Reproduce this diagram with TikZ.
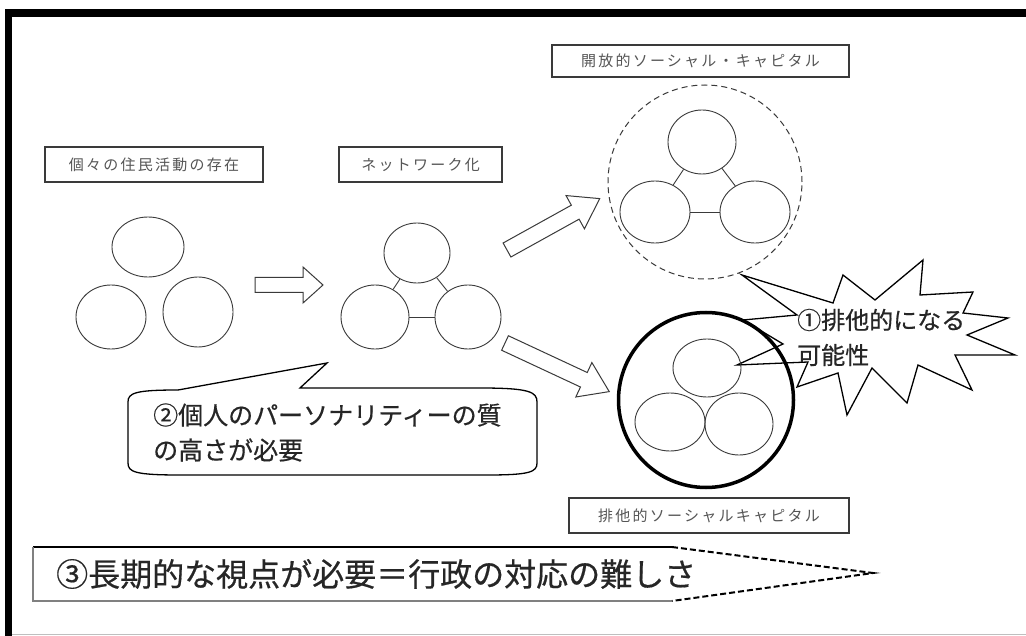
\documentclass[tikz,border=0pt]{standalone}
\usepackage{fontspec}
\usetikzlibrary{shapes.geometric}
\newfontfamily\jp{Noto Sans CJK JP}
\newfontfamily\jplab[LetterSpace=15]{Noto Sans CJK JP}
\newfontfamily\jpb[FakeBold=0.5]{Noto Sans CJK JP}
\definecolor{lab}{HTML}{555555}
\definecolor{ln}{HTML}{3A3A3A}
\tikzset{
  lbl/.style={draw=ln, line width=1.3pt, inner sep=0pt, text=lab, font=\jplab\fontsize{15}{18}\selectfont},
  ell/.style={ellipse, draw=ln, line width=0.9pt, inner sep=0pt},
  link/.style={draw=ln, line width=0.9pt},
  blk/.style={draw=ln, line width=1pt, fill=white, line join=miter},
  big/.style={font=\jpb\fontsize{25}{35}\selectfont, text=black!85, inner sep=0pt, anchor=west},
  starsty/.style={draw=black, line width=1.3pt, fill=white, line join=miter},
}
\begin{document}
\begin{tikzpicture}[x=1pt,y=-1pt]
\useasboundingbox (0,0) rectangle (1026,636);
\fill[white] (0,0) rectangle (1026,636);
% frame
\fill[black] (5,9) rectangle (1026,17);
\fill[black] (5,9) rectangle (12,636);
\draw[gray!50, line width=1.5pt] (12,634.5) -- (1026,634.5);

% labels
\node[lbl, minimum width=218, minimum height=35] (l1) at (154,164.5) {個々の住民活動の存在};
\node[lbl, minimum width=163, minimum height=35] (l2) at (420.5,164.5) {ネットワーク化};
\node[lbl, minimum width=297, minimum height=32] (l3) at (700.5,61) {開放的ソーシャル・キャピタル};
\node[lbl, minimum width=280, minimum height=35] (l4) at (709,515.5) {排他的ソーシャルキャピタル};

% stage 1 circles
\node[ell, minimum width=72, minimum height=60] (a1) at (148,247) {};
\node[ell, minimum width=70, minimum height=64] (a2) at (111,317) {};
\node[ell, minimum width=70, minimum height=70] (a3) at (198,312) {};

% network circles
\node[ell, minimum width=66, minimum height=60] (b1) at (417,253) {};
\node[ell, minimum width=68, minimum height=64] (b2) at (375,317) {};
\node[ell, minimum width=66, minimum height=64] (b3) at (468,317) {};
\draw[link] (b1) -- (b2);
\draw[link] (b1) -- (b3);
\draw[link] (b2) -- (b3);

% open social capital
\node[circle, draw=ln, dashed, dash pattern=on 6pt off 4pt, line width=1pt, minimum size=194, inner sep=0pt] (oc) at (705,182) {};
\node[ell, minimum width=68, minimum height=64] (c1) at (702,142) {};
\node[ell, minimum width=70, minimum height=62] (c2) at (655,212) {};
\node[ell, minimum width=70, minimum height=62] (c3) at (755,212) {};
\draw[link] (c1) -- (c2);
\draw[link] (c1) -- (c3);
\draw[link] (c2) -- (c3);

% block arrows
\draw[blk, shift={(255,285)}] (0,-7.5) -- (48,-7.5) -- (48,-18) -- (68,0) -- (48,18) -- (48,7.5) -- (0,7.5) -- cycle;
\draw[blk, shift={(507,250)}, rotate=29] (0,-8) -- (78,-8) -- (78,-19) -- (106,0) -- (78,19) -- (78,8) -- (0,8) -- cycle;
\draw[blk, shift={(505,343)}, rotate=-25] (0,-8) -- (87,-8) -- (87,-19) -- (115,0) -- (87,19) -- (87,8) -- (0,8) -- cycle;

% star callout
\draw[starsty] (742,275) -- (833,303) -- (843,275) -- (875,300) -- (923,260) -- (920,295)
  -- (973,292) -- (963,313) -- (1008,318) -- (967,335) -- (1015,355) -- (955,355)
  -- (972,390) -- (918,365) -- (907,403) -- (872,368) -- (847,415) -- (838,373)
  -- (797,387) -- (808,362) -- (737,365) -- (783,344) -- (743,320) -- (797,315) -- cycle;

% closed social capital
\node[circle, draw=black, line width=3.5pt, minimum size=175, inner sep=0pt] (cc) at (706,400) {};
\node[ell, minimum width=68, minimum height=58] (d1) at (707,368) {};
\node[ell, minimum width=70, minimum height=58] (d2) at (670,422) {};
\node[ell, minimum width=68, minimum height=62] (d3) at (739,424) {};

\node[big, font=\jpb\fontsize{24}{35}\selectfont] (s1) at (797,320) {①排他的になる};
\node[big, font=\jpb\fontsize{24}{35}\selectfont] (s2) at (797,355) {可能性};

% speech callout
\draw[draw=black, line width=1.3pt, fill=white] (300,388) -- (480,388) .. controls (530,388) and (537,392) .. (537,402)
  -- (537,463) .. controls (537,472) and (530,475) .. (487,475)
  -- (180,475) .. controls (135,475) and (128,472) .. (128,463)
  -- (128,402) .. controls (128,393) and (135,390) .. (178,390)
  -- (327,363) -- cycle;
\node[big] (t1) at (153,415) {②個人のパーソナリティーの質};
\node[big] (t2) at (153,450) {の高さが必要};

% bottom arrow
\fill[white] (33,547) -- (672,547) -- (873,573) -- (672,601) -- (33,601) -- cycle;
\draw[black, line width=1.8pt] (33,547) -- (672,547);
\draw[gray, line width=1.5pt] (33,547) -- (33,601) -- (672,601);
\draw[black, line width=2pt, dash pattern=on 6pt off 3pt] (672,547) -- (873,573) -- (672,601);
\node[big, font=\jpb\fontsize{32}{36}\selectfont] (t3) at (56,574) {③長期的な視点が必要＝行政の対応の難しさ};
\end{tikzpicture}
\end{document}
